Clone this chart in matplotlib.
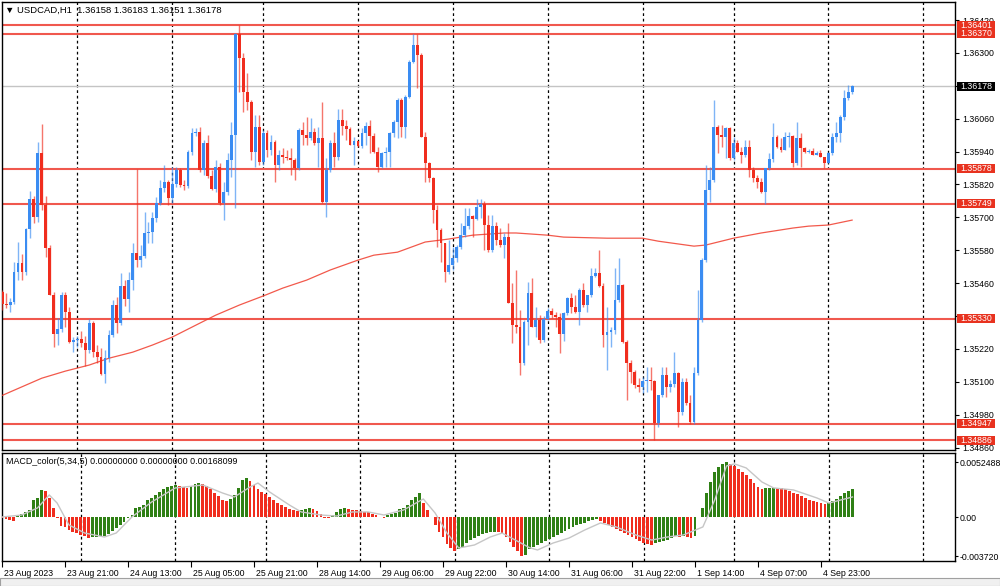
import matplotlib
matplotlib.use("Agg")
import matplotlib.pyplot as plt
import numpy as np
from matplotlib.transforms import (ScaledTranslation, Bbox, TransformedBbox, IdentityTransform)
from matplotlib.patches import Rectangle

plt.rcParams["font.family"] = ["Liberation Sans", "DejaVu Sans"]

symbol = "USDCAD,H1"

# hourly candles, 23 Aug 05:00 .. 5 Sep 06:00
opens = [1.35417, 1.35428, 1.35384, 1.35380, 1.35391, 1.35501, 1.35534, 1.35501, 1.35658, 1.35767,
         1.35701, 1.35935, 1.35745, 1.35588, 1.35417, 1.35274, 1.35293, 1.35417, 1.35355, 1.35245,
         1.35252, 1.35256, 1.35242, 1.35216, 1.35315, 1.35209, 1.35190, 1.35128, 1.35187, 1.35271,
         1.35380, 1.35315, 1.35450, 1.35402, 1.35471, 1.35570, 1.35544, 1.35559, 1.35643, 1.35647,
         1.35698, 1.35753, 1.35807, 1.35829, 1.35771, 1.35822, 1.35873, 1.35818, 1.35815, 1.35939,
         1.36008, 1.36012, 1.35873, 1.35972, 1.35851, 1.35804, 1.35884, 1.35753, 1.35793, 1.35909,
         1.36001, 1.36369, 1.36282, 1.36158, 1.36121, 1.35939, 1.36030, 1.35902, 1.36008, 1.35946,
         1.35975, 1.35891, 1.35928, 1.35920, 1.35917, 1.35909, 1.35880, 1.36019, 1.36001, 1.35990,
         1.36012, 1.35972, 1.35990, 1.35756, 1.35873, 1.35972, 1.35920, 1.36055, 1.36034, 1.36023,
         1.35964, 1.35979, 1.35961, 1.36008, 1.36034, 1.35997, 1.35939, 1.35884, 1.35935, 1.35939,
         1.36008, 1.36048, 1.36128, 1.36030, 1.36139, 1.36267, 1.36329, 1.36292, 1.35993, 1.35899,
         1.35844, 1.35727, 1.35654, 1.35607, 1.35501, 1.35526, 1.35552, 1.35592, 1.35636, 1.35669,
         1.35705, 1.35694, 1.35738, 1.35749, 1.35672, 1.35581, 1.35669, 1.35617, 1.35599, 1.35628,
         1.35388, 1.35307, 1.35300, 1.35169, 1.35318, 1.35424, 1.35300, 1.35326, 1.35252, 1.35329,
         1.35358, 1.35344, 1.35336, 1.35274, 1.35351, 1.35406, 1.35373, 1.35355, 1.35435, 1.35380,
         1.35417, 1.35486, 1.35497, 1.35450, 1.35271, 1.35282, 1.35289, 1.35398, 1.35453, 1.35245,
         1.35169, 1.35136, 1.35088, 1.35081, 1.35103, 1.35106, 1.35103, 1.34950, 1.35052, 1.35125,
         1.35081, 1.35092, 1.35132, 1.34990, 1.35099, 1.35022, 1.34953, 1.35132, 1.35326, 1.35544,
         1.35800, 1.35836, 1.36030, 1.36001, 1.35993, 1.36026, 1.35917, 1.35972, 1.35939, 1.35928,
         1.35957, 1.35873, 1.35844, 1.35829, 1.35793, 1.35880, 1.35913, 1.35993, 1.35957, 1.35946,
         1.35993, 1.35997, 1.35899, 1.35990, 1.35953, 1.35939, 1.35942, 1.35928, 1.35935, 1.35920,
         1.35899, 1.35935, 1.35993, 1.36008, 1.36066, 1.36136, 1.36158]
highs = [1.35435, 1.35435, 1.35424, 1.35406, 1.35537, 1.35610, 1.35566, 1.35661, 1.35796, 1.35778,
         1.35975, 1.36041, 1.35778, 1.35599, 1.35428, 1.35333, 1.35428, 1.35428, 1.35373, 1.35263,
         1.35267, 1.35285, 1.35267, 1.35329, 1.35322, 1.35234, 1.35223, 1.35216, 1.35289, 1.35398,
         1.35409, 1.35497, 1.35471, 1.35501, 1.35607, 1.35878, 1.35599, 1.35720, 1.35683, 1.35720,
         1.35774, 1.35836, 1.35891, 1.35836, 1.35884, 1.35884, 1.35880, 1.35836, 1.35946, 1.36026,
         1.36026, 1.36030, 1.35982, 1.36001, 1.35873, 1.35909, 1.35899, 1.35829, 1.35935, 1.36048,
         1.36373, 1.36401, 1.36300, 1.36227, 1.36128, 1.36074, 1.36074, 1.36019, 1.36019, 1.36001,
         1.35982, 1.35946, 1.35953, 1.35946, 1.35953, 1.35917, 1.36026, 1.36048, 1.36066, 1.36063,
         1.36026, 1.36030, 1.36121, 1.35917, 1.35982, 1.36012, 1.36096, 1.36096, 1.36055, 1.36030,
         1.35993, 1.35979, 1.36026, 1.36048, 1.36055, 1.36008, 1.35957, 1.35939, 1.35957, 1.36012,
         1.36055, 1.36136, 1.36136, 1.36147, 1.36274, 1.36370, 1.36370, 1.36300, 1.36012, 1.35902,
         1.35847, 1.35745, 1.35661, 1.35607, 1.35617, 1.35592, 1.35599, 1.35680, 1.35734, 1.35734,
         1.35709, 1.35767, 1.35767, 1.35760, 1.35709, 1.35709, 1.35683, 1.35661, 1.35643, 1.35680,
         1.35460, 1.35508, 1.35362, 1.35326, 1.35464, 1.35479, 1.35373, 1.35344, 1.35340, 1.35369,
         1.35369, 1.35355, 1.35351, 1.35355, 1.35409, 1.35424, 1.35417, 1.35442, 1.35460, 1.35417,
         1.35515, 1.35515, 1.35581, 1.35460, 1.35373, 1.35300, 1.35515, 1.35552, 1.35457, 1.35252,
         1.35180, 1.35143, 1.35114, 1.35117, 1.35154, 1.35154, 1.35106, 1.35052, 1.35154, 1.35154,
         1.35106, 1.35209, 1.35136, 1.35114, 1.35114, 1.35052, 1.35154, 1.35435, 1.35552, 1.35891,
         1.35884, 1.36128, 1.36037, 1.36037, 1.36030, 1.36030, 1.35993, 1.35982, 1.35957, 1.35982,
         1.35982, 1.35884, 1.35855, 1.35844, 1.35880, 1.35935, 1.36045, 1.36001, 1.35990, 1.36012,
         1.36012, 1.36001, 1.36048, 1.36008, 1.35957, 1.35950, 1.35953, 1.35942, 1.35946, 1.35920,
         1.35939, 1.36008, 1.36048, 1.36074, 1.36165, 1.36183, 1.36183]
lows = [1.35398, 1.35362, 1.35369, 1.35355, 1.35384, 1.35471, 1.35471, 1.35490, 1.35625, 1.35680,
        1.35683, 1.35727, 1.35555, 1.35417, 1.35227, 1.35234, 1.35282, 1.35300, 1.35242, 1.35209,
        1.35227, 1.35227, 1.35158, 1.35205, 1.35190, 1.35169, 1.35125, 1.35095, 1.35172, 1.35263,
        1.35278, 1.35307, 1.35377, 1.35355, 1.35435, 1.35519, 1.35519, 1.35552, 1.35607, 1.35607,
        1.35683, 1.35745, 1.35793, 1.35745, 1.35753, 1.35811, 1.35811, 1.35800, 1.35807, 1.35928,
        1.35997, 1.35866, 1.35855, 1.35844, 1.35800, 1.35793, 1.35745, 1.35690, 1.35782, 1.35847,
        1.35734, 1.36158, 1.36085, 1.36092, 1.35909, 1.35884, 1.35891, 1.35891, 1.35920, 1.35928,
        1.35829, 1.35873, 1.35899, 1.35909, 1.35855, 1.35836, 1.35873, 1.35964, 1.35964, 1.35982,
        1.35964, 1.35884, 1.35753, 1.35701, 1.35866, 1.35884, 1.35909, 1.36001, 1.35982, 1.35964,
        1.35891, 1.35957, 1.35953, 1.35964, 1.35935, 1.35935, 1.35866, 1.35880, 1.35884, 1.35884,
        1.35993, 1.35990, 1.35993, 1.35990, 1.36136, 1.36263, 1.36172, 1.35993, 1.35829, 1.35829,
        1.35680, 1.35592, 1.35537, 1.35464, 1.35493, 1.35508, 1.35537, 1.35585, 1.35628, 1.35658,
        1.35628, 1.35690, 1.35698, 1.35581, 1.35574, 1.35574, 1.35599, 1.35592, 1.35552, 1.35388,
        1.35242, 1.35278, 1.35125, 1.35161, 1.35234, 1.35300, 1.35263, 1.35242, 1.35245, 1.35326,
        1.35333, 1.35300, 1.35205, 1.35249, 1.35344, 1.35351, 1.35351, 1.35307, 1.35373, 1.35355,
        1.35409, 1.35482, 1.35446, 1.35227, 1.35143, 1.35227, 1.35274, 1.35391, 1.35242, 1.35033,
        1.35095, 1.35077, 1.35063, 1.35059, 1.35063, 1.35070, 1.34887, 1.34935, 1.35044, 1.35044,
        1.35063, 1.35081, 1.34935, 1.34979, 1.35015, 1.34947, 1.34947, 1.35125, 1.35318, 1.35537,
        1.35756, 1.35829, 1.35935, 1.35957, 1.35917, 1.35909, 1.35909, 1.35939, 1.35899, 1.35920,
        1.35847, 1.35829, 1.35807, 1.35789, 1.35749, 1.35873, 1.35902, 1.35953, 1.35939, 1.35946,
        1.35957, 1.35884, 1.35891, 1.35884, 1.35935, 1.35935, 1.35928, 1.35928, 1.35920, 1.35880,
        1.35899, 1.35928, 1.35975, 1.35975, 1.36055, 1.36128, 1.36151]
closes = [1.35428, 1.35384, 1.35380, 1.35391, 1.35501, 1.35534, 1.35501, 1.35658, 1.35767, 1.35701,
          1.35935, 1.35745, 1.35588, 1.35417, 1.35274, 1.35293, 1.35417, 1.35355, 1.35245, 1.35252,
          1.35256, 1.35242, 1.35216, 1.35315, 1.35209, 1.35190, 1.35128, 1.35187, 1.35271, 1.35380,
          1.35315, 1.35450, 1.35402, 1.35471, 1.35570, 1.35544, 1.35559, 1.35643, 1.35647, 1.35698,
          1.35753, 1.35807, 1.35829, 1.35771, 1.35822, 1.35873, 1.35818, 1.35815, 1.35939, 1.36008,
          1.36012, 1.35873, 1.35972, 1.35851, 1.35804, 1.35884, 1.35753, 1.35793, 1.35909, 1.36001,
          1.36369, 1.36282, 1.36158, 1.36121, 1.35939, 1.36030, 1.35902, 1.36008, 1.35946, 1.35975,
          1.35891, 1.35928, 1.35920, 1.35917, 1.35909, 1.35880, 1.36019, 1.36001, 1.35990, 1.36012,
          1.35972, 1.35990, 1.35756, 1.35873, 1.35972, 1.35920, 1.36055, 1.36034, 1.36023, 1.35964,
          1.35979, 1.35961, 1.36008, 1.36034, 1.35997, 1.35939, 1.35884, 1.35935, 1.35939, 1.36008,
          1.36048, 1.36128, 1.36030, 1.36139, 1.36267, 1.36329, 1.36292, 1.35993, 1.35899, 1.35844,
          1.35727, 1.35654, 1.35607, 1.35501, 1.35526, 1.35552, 1.35592, 1.35636, 1.35669, 1.35705,
          1.35694, 1.35738, 1.35749, 1.35672, 1.35581, 1.35669, 1.35617, 1.35599, 1.35628, 1.35388,
          1.35307, 1.35300, 1.35169, 1.35318, 1.35424, 1.35300, 1.35326, 1.35252, 1.35329, 1.35358,
          1.35344, 1.35336, 1.35274, 1.35351, 1.35406, 1.35373, 1.35355, 1.35435, 1.35380, 1.35417,
          1.35486, 1.35497, 1.35450, 1.35271, 1.35282, 1.35289, 1.35398, 1.35453, 1.35245, 1.35169,
          1.35136, 1.35088, 1.35081, 1.35103, 1.35106, 1.35103, 1.34950, 1.35052, 1.35125, 1.35081,
          1.35092, 1.35132, 1.34990, 1.35099, 1.35022, 1.34953, 1.35132, 1.35326, 1.35544, 1.35800,
          1.35836, 1.36030, 1.36001, 1.35993, 1.36026, 1.35917, 1.35972, 1.35939, 1.35928, 1.35957,
          1.35873, 1.35844, 1.35829, 1.35793, 1.35880, 1.35913, 1.35993, 1.35957, 1.35946, 1.35993,
          1.35997, 1.35899, 1.35990, 1.35953, 1.35939, 1.35942, 1.35928, 1.35935, 1.35920, 1.35899,
          1.35935, 1.35993, 1.36008, 1.36066, 1.36136, 1.36158, 1.36178]

# moving average read at a few bars
ma_bars = [0, 11, 17, 23, 28, 34, 39, 44, 51, 55, 61, 67, 72, 78, 84, 91, 95, 101, 108, 114,
           120, 128, 131, 139, 143, 154, 163, 167, 176, 179, 186, 193, 201, 205, 210, 216]
ma_values = [1.35044, 1.35113, 1.35139, 1.35161, 1.35186, 1.35208, 1.35234, 1.35263, 1.35314, 1.35343,
             1.35380, 1.35413, 1.35442, 1.35471, 1.35508, 1.35544, 1.35562, 1.35573, 1.35610, 1.35621,
             1.35635, 1.35643, 1.35643, 1.35635, 1.35628, 1.35624, 1.35624, 1.35613, 1.35595, 1.35599,
             1.35624, 1.35643, 1.35661, 1.35668, 1.35672, 1.35690]

macd_hist = [-0.00007, -0.00016, -0.00026, -0.00035, 0.00012, 0.00031, 0.00051, 0.00070, 0.00165, 0.00184,
             0.00261, 0.00251, 0.00184, 0.00089, -0.00007, -0.00083, -0.00093, -0.00121, -0.00140, -0.00150,
             -0.00169, -0.00178, -0.00193, -0.00188, -0.00185, -0.00181, -0.00178, -0.00159, -0.00131, -0.00102,
             -0.00073, -0.00045, -0.00007, 0.00022, 0.00089, 0.00101, 0.00117, 0.00165, 0.00187, 0.00213,
             0.00244, 0.00267, 0.00286, 0.00299, 0.00308, 0.00299, 0.00289, 0.00280, 0.00299, 0.00318,
             0.00327, 0.00318, 0.00299, 0.00270, 0.00232, 0.00203, 0.00165, 0.00156, 0.00175, 0.00213,
             0.00280, 0.00356, 0.00375, 0.00346, 0.00308, 0.00270, 0.00241, 0.00222, 0.00194, 0.00165,
             0.00136, 0.00117, 0.00098, 0.00079, 0.00070, 0.00060, 0.00070, 0.00079, 0.00084, 0.00079,
             0.00060, 0.00031, -0.00002, -0.00007, 0.00022, 0.00051, 0.00079, 0.00084, 0.00079, 0.00070,
             0.00065, 0.00060, 0.00055, 0.00051, 0.00031, 0.00022, 0.00003, -0.00002, 0.00022, 0.00031,
             0.00041, 0.00079, 0.00089, 0.00117, 0.00165, 0.00194, 0.00232, 0.00136, 0.00070, 0.00003,
             -0.00073, -0.00140, -0.00188, -0.00255, -0.00293, -0.00322, -0.00303, -0.00283, -0.00245, -0.00217,
             -0.00198, -0.00178, -0.00159, -0.00150, -0.00140, -0.00136, -0.00140, -0.00150, -0.00188, -0.00236,
             -0.00283, -0.00322, -0.00369, -0.00360, -0.00303, -0.00283, -0.00264, -0.00245, -0.00226, -0.00207,
             -0.00188, -0.00169, -0.00150, -0.00131, -0.00112, -0.00093, -0.00073, -0.00064, -0.00054, -0.00035,
             -0.00026, -0.00016, -0.00035, -0.00054, -0.00073, -0.00093, -0.00112, -0.00131, -0.00150, -0.00169,
             -0.00188, -0.00207, -0.00226, -0.00245, -0.00255, -0.00264, -0.00245, -0.00236, -0.00226, -0.00217,
             -0.00198, -0.00178, -0.00188, -0.00178, -0.00188, -0.00198, -0.00178, 0.00003, 0.00089, 0.00232,
             0.00337, 0.00432, 0.00480, 0.00509, 0.00525, 0.00509, 0.00490, 0.00461, 0.00432, 0.00404,
             0.00366, 0.00327, 0.00289, 0.00270, 0.00275, 0.00280, 0.00284, 0.00280, 0.00275, 0.00270,
             0.00251, 0.00232, 0.00222, 0.00203, 0.00184, 0.00165, 0.00156, 0.00146, 0.00136, 0.00127,
             0.00136, 0.00156, 0.00175, 0.00203, 0.00232, 0.00251, 0.00270]
signal_bars = [0, 5, 9, 12, 14, 17, 21, 26, 29, 33, 38, 44, 51, 56, 59, 63, 65, 68, 73, 76,
               81, 85, 89, 93, 97, 102, 107, 110, 113, 116, 120, 124, 127, 134, 136, 140, 144, 148, 152, 156,
               161, 165, 169, 173, 178, 181, 184, 186, 189, 193, 196, 201, 207, 210, 216]
signal_values = [0.00003, 0.00022, 0.00089, 0.00213, 0.00136, -0.00073, -0.00150, -0.00188, -0.00150, 0.00003,
                 0.00146, 0.00280, 0.00308, 0.00232, 0.00194, 0.00289, 0.00327, 0.00241, 0.00117, 0.00051,
                 0.00022, 0.00012, 0.00051, 0.00051, 0.00022, 0.00070, 0.00175, 0.00041, -0.00150, -0.00293,
                 -0.00264, -0.00188, -0.00150, -0.00290, -0.00312, -0.00245, -0.00198, -0.00121, -0.00054, -0.00092,
                 -0.00169, -0.00217, -0.00188, -0.00169, -0.00092, 0.00165, 0.00490, 0.00510, 0.00471, 0.00337,
                 0.00280, 0.00261, 0.00184, 0.00136, 0.00194]

levels = [1.36401, 1.36370, 1.35878, 1.35749, 1.35330, 1.34947, 1.34886]
price_ticks = [1.34860, 1.34980, 1.35100, 1.35220, 1.35340, 1.35460, 1.35580, 1.35700,
               1.35820, 1.35940, 1.36060, 1.36180, 1.36300, 1.36420]
macd_ticks = [0.0052488, 0.0, -0.003720]
macd_tick_labels = ["0.0052488", "0.00", "-0.003720"]
time_bars = [0, 16, 32, 48, 64, 80, 96, 112, 128, 144, 160, 176, 192, 208]
time_labels = ["23 Aug 2023", "23 Aug 21:00", "24 Aug 13:00", "25 Aug 05:00", "25 Aug 21:00",
               "28 Aug 14:00", "29 Aug 06:00", "29 Aug 22:00", "30 Aug 14:00", "31 Aug 06:00",
               "31 Aug 22:00", "1 Sep 14:00", "4 Sep 07:00", "4 Sep 23:00"]
grid_bars = [20, 44, 67, 91, 115, 139, 163, 186, 210, 234]

BLUE = "#3a8cf2"
RED = "#f02d1e"
GREEN = "#2f8015"
LEVEL = "#f0584e"
FS = 6.3

o = np.array(opens)
h = np.array(highs)
l = np.array(lows)
c = np.array(closes)
idx = np.arange(len(c))
up = c >= o
cols = np.where(up, BLUE, RED)

W, H = 1000, 586
fig = plt.figure(figsize=(W / 100, H / 100), dpi=100)


def px_axes(x0, y0, x1, y1):
    return fig.add_axes([x0 / W, 1 - y1 / H, (x1 - x0) / W, (y1 - y0) / H])


ax = px_axes(2, 2, 955, 450)
am = px_axes(2, 453, 955, 561)
xlim = (0.946, 242.03)

# ---- price pane
for g in grid_bars:
    ax.axvline(g, color="black", lw=0.9, dashes=(2.2, 2.2), zorder=1)
    am.axvline(g, color="black", lw=0.9, dashes=(2.2, 2.2), zorder=1)

for lv in levels:
    ax.axhline(lv, color=LEVEL, lw=1.5, zorder=2)
ax.axhline(c[-1], color="#c4c4c4", lw=1.0, zorder=2)

ax.plot(ma_bars, ma_values, color="#f03c2c", lw=0.9, alpha=0.85, zorder=3)

ax.vlines(idx, l, h, colors=cols, lw=1.0, alpha=0.65, zorder=4)
body = np.maximum(np.abs(c - o), 0.00003)
ax.bar(idx, body, bottom=np.minimum(o, c), width=0.72, color=cols, lw=0, zorder=5)

ax.set_xlim(*xlim)
ax.set_ylim(1.34851, 1.36486)
ax.set_xticks([])
ax.yaxis.tick_right()
ax.set_yticks(price_ticks)
ax.set_yticklabels([f"{t:.5f}" for t in price_ticks])
ax.tick_params(axis="y", length=3, width=0.8, pad=2, labelsize=FS)
for sp in ax.spines.values():
    sp.set_linewidth(1.0)

clip = TransformedBbox(Bbox([[955, H - 451], [1000, H - 2]]), IdentityTransform())
for lab in ax.get_yticklabels():
    lab.set_clip_box(clip)
    lab.set_clip_on(True)

# shift marker
ax.plot([855], [1.36475], marker="v", color="#b0b0b0", ms=5, clip_on=False, zorder=6)

# ---- MACD pane
mh = np.array(macd_hist)
rising = np.r_[False, mh[1:] > mh[:-1]]
am.bar(idx, mh, width=0.72, color=np.where(rising, GREEN, RED), lw=0, zorder=3)
am.plot(signal_bars, signal_values, color="#c6c6c6", lw=1.0, zorder=4)
am.set_xlim(*xlim)
am.set_ylim(-0.004170, 0.006136)
am.yaxis.tick_right()
am.set_yticks(macd_ticks)
am.set_yticklabels(macd_tick_labels)
am.tick_params(axis="y", length=2, width=0.8, pad=1, labelsize=FS)
am.set_xticks(time_bars)
am.set_xticklabels(time_labels, ha="left")
am.tick_params(axis="x", length=4, width=0.8, pad=2, labelsize=FS)
shift = ScaledTranslation(2 / 100, 0, fig.dpi_scale_trans)
for lab in am.get_xticklabels():
    lab.set_transform(lab.get_transform() + shift)
for sp in am.spines.values():
    sp.set_linewidth(1.0)

# price boxes on the right scale, drawn above the tick labels
fig.canvas.draw()


def price_box(value, face, height=9):
    ypx = ax.transData.transform((1, value))[1]
    fig.add_artist(Rectangle((957, ypx - height / 2), 38, height, transform=IdentityTransform(),
                             fc=face, ec="none", zorder=5))
    fig.add_artist(plt.Text(976, ypx, f"{value:.5f}", transform=IdentityTransform(),
                            ha="center", va="center", fontsize=FS, color="white", zorder=6))


for lv in levels:
    price_box(lv, "#e8321f")
price_box(c[-1], "black")

# headers
fig.text(5 / W, 1 - 10 / H, "\u25bc " + symbol + "  1.36158 1.36183 1.36151 1.36178",
         fontsize=6.8, va="center", ha="left")
fig.text(6 / W, 1 - 462 / H, "MACD_color(5,34,5) 0.00000000 0.00000000 0.00168099",
         fontsize=6.4, va="center", ha="left")

# tab strip at the bottom
fig.patches.append(Rectangle((0, 0), 1, 8 / H, transform=fig.transFigure,
                             fc="#f0f0f0", ec="#a0a0a0", lw=0.8))

fig.savefig("out.png", dpi=100)
